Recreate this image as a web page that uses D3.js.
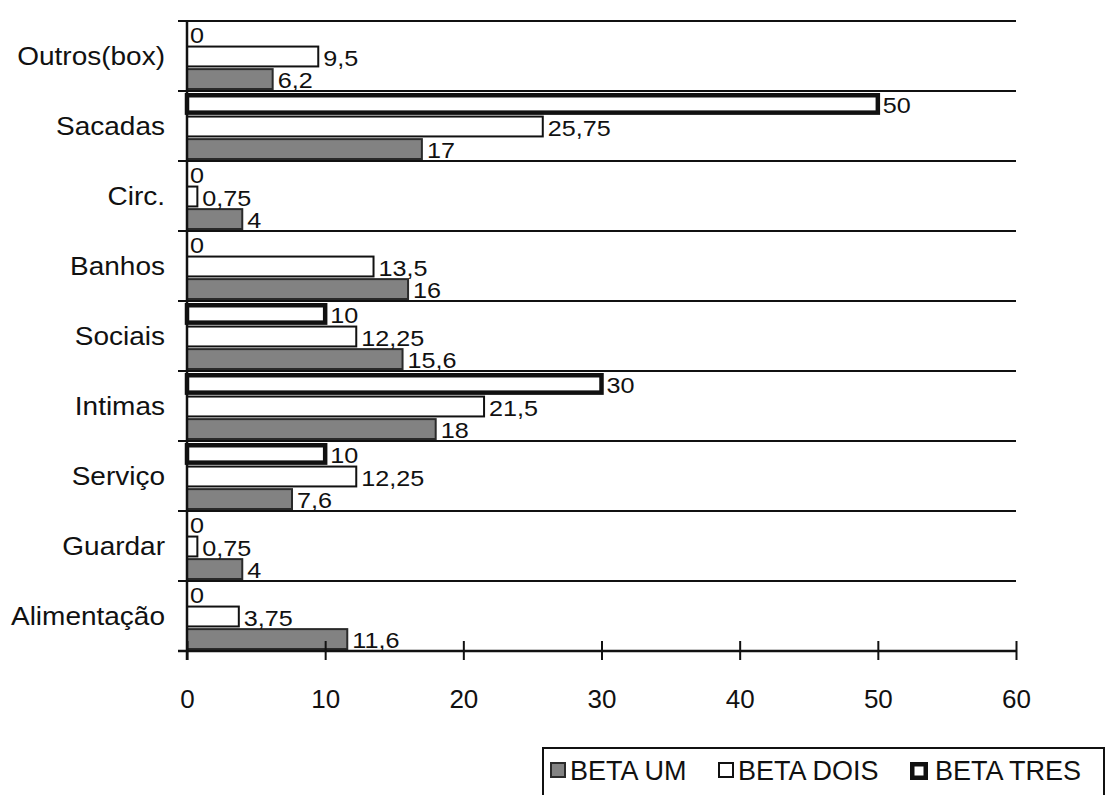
<!DOCTYPE html>
<html>
<head>
<meta charset="utf-8">
<script src="https://cdn.jsdelivr.net/npm/d3@7"></script>
<style>
  body { margin: 0; background: #fff; }
  text { font-family: "Liberation Sans", Arial, sans-serif; fill: #111; }
</style>
</head>
<body>
<div id="chart"></div>
<script>
// categories top to bottom
var categories = ['Outros(box)', 'Sacadas', 'Circ.', 'Banhos', 'Sociais', 'Intimas', 'Serviço', 'Guardar', 'Alimentação'];
var series = ['BETA TRES', 'BETA DOIS', 'BETA UM'];   // order inside each band, top to bottom
var betaUm = [6.2, 17, 4, 16, 15.6, 18, 7.6, 4, 11.6];
var betaDois = [9.5, 25.75, 0.75, 13.5, 12.25, 21.5, 12.25, 0.75, 3.75];
var betaTres = [0, 50, 0, 0, 10, 30, 10, 0, 0];
var xTicks = [0, 10, 20, 30, 40, 50, 60];
var legendItems = ['BETA UM', 'BETA DOIS', 'BETA TRES'];

var width = 1107, height = 795;
var plotLeft = 187, plotRight = 1016, plotTop = 21, plotBottom = 651;
var stretch = 1.12;   // scanned text is a bit wider than Arial

var svg = d3.select("#chart").append("svg")
    .attr("width", width)
    .attr("height", height);

var xScale = d3.scaleLinear().domain([0, 60]).range([plotLeft, plotRight]);
var yScale = d3.scaleBand().domain(categories).range([plotTop, plotBottom]);
var inner = d3.scaleBand().domain(series).range([2, yScale.bandwidth() - 1]).paddingInner(0.03);

var valuesBySeries = {'BETA UM': betaUm, 'BETA DOIS': betaDois, 'BETA TRES': betaTres};
var styles = {
    'BETA UM': {fill: '#828282', stroke: '#2a2a2a', sw: 2},
    'BETA DOIS': {fill: '#fff', stroke: '#111', sw: 2},
    'BETA TRES': {fill: '#fff', stroke: '#111', sw: 4.5}
};

// places a horizontally stretched text
function wideText(sel, x, y, size) {
    return sel.attr("transform", function (d, i) {
        var xx = typeof x === "function" ? x(d, i) : x;
        var yy = typeof y === "function" ? y(d, i) : y;
        return "translate(" + xx + "," + yy + ") scale(" + stretch + ",1)";
    }).attr("font-size", size);
}

// grid lines at band boundaries
var bounds = categories.map(function (c) { return yScale(c); });
svg.append("g").selectAll("line")
    .data(bounds)
    .enter().append("line")
    .attr("x1", plotLeft - 9).attr("x2", plotRight)
    .attr("y1", function (d) { return d; }).attr("y2", function (d) { return d; })
    .attr("stroke", "#111").attr("stroke-width", 2);

// bars
var rows = [];
categories.forEach(function (c, i) {
    series.forEach(function (s) {
        rows.push({cat: c, series: s, value: valuesBySeries[s][i]});
    });
});

var fmt = function (v) { return String(v).replace('.', ','); };

var g = svg.append("g");
g.selectAll("rect")
    .data(rows.filter(function (d) { return d.value > 0; }))
    .enter().append("rect")
    .attr("x", xScale(0))
    .attr("y", function (d) { return yScale(d.cat) + inner(d.series) + styles[d.series].sw / 2; })
    .attr("width", function (d) { return xScale(d.value) - xScale(0); })
    .attr("height", function (d) { return inner.bandwidth() - styles[d.series].sw; })
    .attr("fill", function (d) { return styles[d.series].fill; })
    .attr("stroke", function (d) { return styles[d.series].stroke; })
    .attr("stroke-width", function (d) { return styles[d.series].sw; });

// value labels
wideText(g.selectAll("text")
    .data(rows)
    .enter().append("text")
    .text(function (d) { return fmt(d.value); }),
    function (d) { return xScale(d.value) + (d.value > 0 ? 5 : 3); },
    function (d) { return yScale(d.cat) + inner(d.series) + inner.bandwidth() / 2 + 9; },
    22.5);

// y axis
svg.append("line")
    .attr("x1", plotLeft).attr("x2", plotLeft)
    .attr("y1", plotTop).attr("y2", plotBottom + 9)
    .attr("stroke", "#111").attr("stroke-width", 2.5);

wideText(svg.append("g").selectAll("text")
    .data(categories)
    .enter().append("text")
    .attr("text-anchor", "end")
    .text(function (d) { return d; }),
    165,
    function (d) { return yScale(d) + yScale.bandwidth() / 2 + 9; },
    25);

// x axis
var xAxis = d3.axisBottom(xScale).tickValues(xTicks).tickSize(9).tickPadding(30);
var ax = svg.append("g")
    .attr("transform", "translate(0," + plotBottom + ")")
    .call(xAxis);
ax.select(".domain").attr("stroke", "#111").attr("stroke-width", 2.5).attr("d", "M" + (plotLeft - 9) + ",0H" + plotRight);
ax.selectAll(".tick line").attr("y1", -10).attr("y2", 9).attr("stroke", "#111").attr("stroke-width", 2);
ax.selectAll(".tick text").attr("font-size", 26).attr("font-family", '"Liberation Sans", Arial, sans-serif').attr("fill", "#111");

// legend
var legend = svg.append("g");
legend.append("rect")
    .attr("x", 543).attr("y", 748)
    .attr("width", 561).attr("height", 60)
    .attr("fill", "#fff").attr("stroke", "#111").attr("stroke-width", 2);

var swatchX = [550, 718, 910];
var swatchSize = [16, 16, 18];
var textX = [570, 738, 935];
legendItems.forEach(function (s, i) {
    var st = styles[s];
    legend.append("rect")
        .attr("x", swatchX[i] + st.sw / 2).attr("y", 762 + st.sw / 2)
        .attr("width", swatchSize[i] - st.sw).attr("height", swatchSize[i] - st.sw)
        .attr("fill", st.fill).attr("stroke", st.stroke).attr("stroke-width", st.sw);
    legend.append("text")
        .attr("x", textX[i]).attr("y", 780)
        .attr("font-size", 27)
        .text(s);
});
</script>
</body>
</html>
